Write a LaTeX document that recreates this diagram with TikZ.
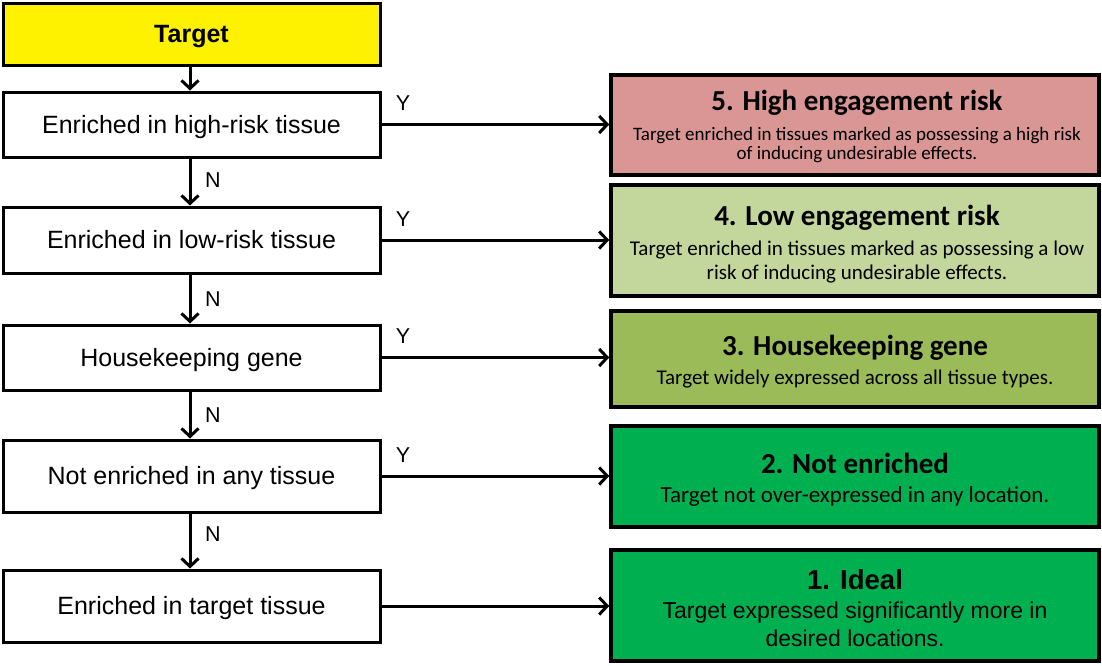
\documentclass[tikz,border=0pt]{standalone}
\usepackage{fontspec}
\setmainfont{Liberation Sans}
\newfontfamily\calfont{Carlito}
\usetikzlibrary{arrows.meta}
\definecolor{riskhigh}{HTML}{D99694}
\definecolor{risklow}{HTML}{C3D69B}
\definecolor{housekeep}{HTML}{9BBB59}
\definecolor{goodgreen}{HTML}{00B050}
\begin{document}
\begin{tikzpicture}[x=1pt,y=-1pt,
  stepbox/.style={draw=black, line width=3pt, minimum width=377pt, inner sep=0pt,
    text height=21pt, text depth=4pt, align=center, font=\fontsize{25}{30}\selectfont},
  resbox/.style={draw=black, line width=3.5pt, minimum width=488pt, inner sep=0pt},
  restitle/.style={anchor=base, inner sep=0pt, font=\calfont\bfseries\fontsize{29}{34}\selectfont},
  restext/.style={anchor=base, inner sep=0pt, font=\calfont\fontsize{21}{25}\selectfont},
  flow/.style={line width=3pt, -{Straight Barb[length=8pt,width=17pt,line width=3pt]}},
  lbl/.style={anchor=base, inner sep=0pt, font=\fontsize{21.5}{25}\selectfont}]
\useasboundingbox (0,0) rectangle (1102,665);

% decision column
\node[stepbox, fill=yellow, minimum height=62pt, font=\bfseries\fontsize{25}{30}\selectfont] (t) at (191.5,34) {Target};
\node[stepbox, minimum height=65pt] (a) at (191.5,124.5) {Enriched in high-risk tissue};
\node[stepbox, minimum height=66pt] (b) at (191.5,240) {Enriched in low-risk tissue};
\node[stepbox, minimum height=65pt] (c) at (191.5,357.5) {Housekeeping gene};
\node[stepbox, minimum height=72pt] (d) at (191.5,476) {Not enriched in any tissue};
\node[stepbox, minimum height=72pt] (e) at (191.5,606) {Enriched in target tissue};

% result column
\node[resbox, fill=riskhigh, minimum height=100pt] (r5) at (855,125) {};
\node[resbox, fill=risklow, minimum height=111pt] (r4) at (855,240.5) {};
\node[resbox, fill=housekeep, minimum height=96pt] (r3) at (855,359) {};
\node[resbox, fill=goodgreen, minimum height=101pt] (r2) at (855,476.5) {};
\node[resbox, fill=goodgreen, minimum height=111pt] (r1) at (855,605.5) {};

\node[restitle] (r5t) at (857,110) {5. High engagement risk};
\node[restext, font=\calfont\fontsize{19}{22}\selectfont] (r5a) at (857,140) {Target enriched in tissues marked as possessing a high risk};
\node[restext, font=\calfont\fontsize{19}{22}\selectfont] (r5b) at (857,159) {of inducing undesirable effects.};

\node[restitle] (r4t) at (857,225) {4. Low engagement risk};
\node[restext] (r4a) at (857,255) {Target enriched in tissues marked as possessing a low};
\node[restext] (r4b) at (857,279) {risk of inducing undesirable effects.};

\node[restitle] (r3t) at (855,355) {3. Housekeeping gene};
\node[restext] (r3a) at (855,384) {Target widely expressed across all tissue types.};

\node[restitle] (r2t) at (855,473) {2. Not enriched};
\node[restext, font=\calfont\fontsize{23}{27}\selectfont] (r2a) at (855,502) {Target not over-expressed in any location.};

\node[restitle, font=\bfseries\fontsize{27.5}{32}\selectfont] (r1t) at (855,589) {1. Ideal};
\node[restext, font=\fontsize{23}{27}\selectfont] (r1a) at (855,618) {Target expressed significantly more in};
\node[restext, font=\fontsize{23}{27}\selectfont] (r1b) at (855,646) {desired locations.};

% connectors
\draw[flow] (t.south -| 190,0) -- (a.north -| 190,0);
\draw[flow] (a.south -| 190,0) -- (b.north -| 190,0);
\draw[flow] (b.south -| 190,0) -- (c.north -| 190,0);
\draw[flow] (c.south -| 190,0) -- (d.north -| 190,0);
\draw[flow] (d.south -| 190,0) -- (e.north -| 190,0);

\draw[flow] (a.east) -- (a.east -| r5.west);
\draw[flow] (b.east) -- (b.east -| r4.west);
\draw[flow] (c.east) -- (c.east -| r3.west);
\draw[flow] (d.east) -- (d.east -| r2.west);
\draw[flow] (e.east) -- (e.east -| r1.west);

% branch labels
\node[lbl] (ya) at (403,110.5) {Y};
\node[lbl] (yb) at (403,226) {Y};
\node[lbl] (yc) at (403,343.5) {Y};
\node[lbl] (yd) at (403,462) {Y};
\node[lbl] (na) at (213,187) {N};
\node[lbl] (nb) at (213,306) {N};
\node[lbl] (nc) at (213,422) {N};
\node[lbl] (nd) at (213,541) {N};
\end{tikzpicture}
\end{document}
